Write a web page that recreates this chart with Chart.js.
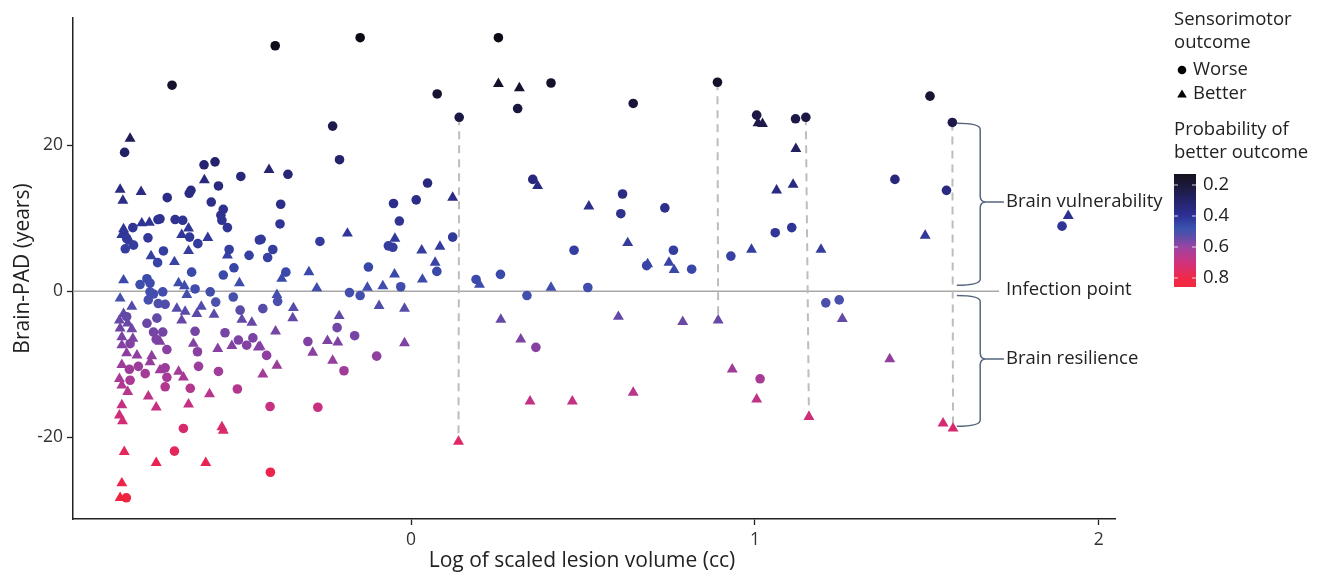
<!DOCTYPE html>
<html>
<head>
<meta charset="utf-8">
<script src="https://cdn.jsdelivr.net/npm/chart.js@4"></script>
<style>
  html, body { margin: 0; padding: 0; background: #fff; }
  #wrap { position: relative; width: 1322px; height: 576px; }
</style>
</head>
<body>
<div id="wrap"><canvas id="chart"></canvas></div>
<script>
// Sensorimotor outcome: worse (circles)
const worseX = [
  -0.695, -0.395, -0.148, 0.076, 0.254, 0.407, 0.310, 0.140, 0.646, 0.891,
  1.005, 1.118, 1.148, 1.509, 1.574, -0.228, -0.208, -0.833, -0.602, -0.570,
  -0.358, -0.495, -0.560, -0.640, -0.645, -0.709, -0.581, -0.546, -0.553, -0.550,
  -0.534, -0.736, -0.730, -0.686, -0.664, -0.809, -0.827, -0.644, -0.765, -0.620,
  -0.807, -0.831, -0.720, -0.529, -0.471, -0.441, -0.737, -0.515, -0.638, -0.546,
  -0.768, -0.788, -0.759, -0.628, -0.722, -0.584, -0.517, -0.759, -0.764, -0.749,
  -0.735, -0.715, -0.568, -0.497, -0.827, -0.768, -0.739, -0.749, -0.722, -0.628,
  -0.541, -0.741, -0.502, -0.460, -0.478, -0.621, -0.710, -0.817, -0.793, -0.819,
  -0.715, -0.773, -0.710, -0.618, -0.560, -0.817, -0.715, -0.642, -0.505, -0.662,
  -0.688, -0.828, -0.379, -0.381, -0.436, -0.265, -0.402, -0.417, -0.364, -0.124,
  -0.179, -0.148, -0.030, -0.388, -0.431, 0.048, 0.015, -0.051, -0.034, -0.066,
  -0.053, 0.075, 0.121, 0.354, 0.615, 0.610, 0.738, 0.474, 0.763, 0.685,
  0.816, 0.260, 0.189, 0.514, 0.337, 0.363, -0.215, -0.164, -0.300, -0.420,
  -0.100, -0.195, -0.410, -0.271, -0.409, 1.407, 1.059, 1.107, 0.930, 1.206,
  1.245, 1.015, 1.557, 1.893
];
const worseY = [
  28.2, 33.6, 34.7, 27.0, 34.7, 28.5, 25.0, 23.8, 25.7, 28.6,
  24.1, 23.6, 23.8, 26.7, 23.1, 22.6, 18.0, 19.0, 17.3, 17.7,
  16.0, 15.7, 14.4, 13.8, 13.4, 12.8, 12.2, 11.2, 10.4, 9.7,
  8.7, 9.8, 9.9, 9.8, 9.7, 8.7, 7.2, 7.4, 7.3, 6.5,
  6.3, 5.8, 5.5, 5.7, 4.9, 7.0, 3.9, 3.2, 2.6, 2.2,
  1.7, 0.9, 1.1, 0.3, -0.1, -0.1, -0.8, -0.1, -1.2, -0.4,
  -1.7, -1.8, -1.5, -2.6, -3.5, -4.4, -3.7, -5.6, -5.6, -5.5,
  -5.7, -6.6, -6.7, -6.4, -7.4, -8.3, -8.0, -7.2, -10.3, -10.7,
  -10.5, -11.3, -11.8, -10.3, -11.0, -12.2, -13.1, -13.3, -13.4, -18.8,
  -21.9, -28.3, 11.9, 9.2, 7.1, 6.8, 5.7, 4.6, 2.6, 3.3,
  -0.2, -0.6, 0.6, -1.4, -2.4, 14.8, 12.5, 12.0, 9.6, 6.2,
  6.0, 2.7, 7.4, 15.3, 13.3, 10.6, 11.4, 5.6, 5.6, 3.5,
  3.0, 2.3, 1.6, 0.5, -0.6, -7.7, -5.0, -6.1, -6.9, -8.8,
  -8.9, -10.9, -15.8, -15.9, -24.8, 15.3, 8.0, 8.7, 4.8, -1.6,
  -1.2, -12.0, 13.8, 8.9
];

// Sensorimotor outcome: better (triangles)
const betterX = [
  0.254, 0.315, 1.009, 1.022, 1.119, -0.817, -0.413, -0.601, -0.846, -0.785,
  -0.838, -0.783, -0.761, -0.836, -0.831, -0.841, -0.817, -0.647, -0.667, -0.591,
  -0.647, -0.534, -0.756, -0.688, -0.836, -0.499, -0.676, -0.659, -0.652, -0.846,
  -0.681, -0.657, -0.667, -0.610, -0.623, -0.573, -0.492, -0.463, -0.812, -0.836,
  -0.848, -0.824, -0.846, -0.812, -0.841, -0.809, -0.730, -0.521, -0.562, -0.633,
  -0.444, -0.841, -0.827, -0.797, -0.754, -0.759, -0.841, -0.730, -0.676, -0.662,
  -0.848, -0.841, -0.824, -0.764, -0.586, -0.741, -0.647, -0.841, -0.848, -0.839,
  -0.550, -0.546, -0.834, -0.741, -0.597, -0.841, -0.846, -0.185, -0.047, 0.031,
  0.084, 0.070, -0.297, -0.376, -0.048, 0.033, -0.274, -0.127, -0.082, -0.390,
  -0.342, -0.093, -0.019, 0.121, 0.368, 0.517, 0.630, 0.688, 0.750, 0.765,
  0.199, 0.407, 0.261, 0.603, 0.790, 0.319, 0.346, 0.469, 0.646, 0.138,
  -0.344, -0.209, -0.394, -0.243, -0.213, -0.286, -0.019, -0.439, -0.228, -0.390,
  -0.431, 1.063, 1.111, 0.990, 1.192, 1.254, 0.893, 1.392, 0.934, 1.005,
  1.157, 1.495, 1.911, 1.547, 1.576
];
const betterY = [
  28.4, 27.8, 23.0, 22.9, 19.5, 20.9, 16.6, 15.2, 13.9, 13.6,
  12.4, 9.3, 9.4, 8.5, 7.9, 7.7, 6.8, 8.6, 7.7, 7.3,
  5.5, 4.9, 4.8, 4.0, 1.5, 1.1, 1.1, 0.7, -0.5, -1.0,
  -2.4, -2.8, -4.0, -2.1, -3.1, -3.2, -3.9, -4.3, -2.1, -3.1,
  -4.0, -4.4, -5.1, -5.2, -6.3, -6.5, -6.9, -7.5, -7.9, -7.2,
  -7.7, -7.4, -8.5, -8.8, -8.9, -9.7, -10.1, -10.8, -11.0, -11.8,
  -12.0, -12.9, -13.8, -14.4, -14.1, -15.9, -15.5, -15.6, -17.0, -17.8,
  -18.6, -19.1, -22.0, -23.5, -23.5, -26.3, -28.3, 7.9, 7.2, 5.6,
  6.1, 3.9, 2.6, 1.7, 2.3, 1.6, 0.4, 0.5, 0.7, -0.5,
  -2.3, -2.0, -2.4, 12.8, 14.4, 11.6, 6.6, 3.7, 3.9, 2.9,
  0.9, 0.5, -3.9, -3.5, -4.2, -6.6, -15.1, -15.1, -13.9, -20.6,
  -3.7, -3.4, -5.5, -6.8, -7.0, -8.4, -7.1, -7.6, -9.5, -10.2,
  -11.4, 13.8, 14.6, 5.7, 5.7, -3.8, -4.0, -9.3, -10.7, -14.8,
  -17.2, 7.6, 10.3, -18.1, -18.8
];

// dashed links between matched cases (top point, bottom point)
const linkX = [[0.140, 0.138], [0.891, 0.893], [1.148, 1.157], [1.574, 1.576]];
const linkY = [[23.8, -20.6], [28.6, -4.0], [23.8, -17.2], [23.1, -18.8]];

const xTicks = [0, 1, 2];
const yTicks = [-20, 0, 20];
const probTicks = [0.2, 0.4, 0.6, 0.8];

const xMin = -0.983, xMax = 2.047;
const yMin = -31.2, yMax = 37.4;

const FONT = '"Open Sans", "Noto Sans", sans-serif';
const INK = '#222';
const LABEL_FONT = `18.5px ${FONT}`;

// colour ramp of the markers, keyed on Brain-PAD
const padStops = [35, 28, 22, 15, 8, 2, -1, -4, -8, -12, -16, -20, -24, -29];
const padColors = ['#0c0b14', '#15122c', '#1f1b50', '#29287e', '#313698', '#3a4aab', '#4650ad',
  '#6748a6', '#8840a1', '#a93a95', '#c8307f', '#de2866', '#ea2350', '#f0243c'];
// colour bar of the legend, keyed on probability
const probStops = [0.129, 0.2, 0.3, 0.4, 0.48, 0.53, 0.6, 0.7, 0.8, 0.858];
const probColors = ['#15121d', '#1c1838', '#24236a', '#2e3096', '#3a54ae', '#5a4eaa', '#9a44a2',
  '#d0327e', '#f02848', '#f22a3e'];

function hexRgb(h) {
  return [1, 3, 5].map(i => parseInt(h.slice(i, i + 2), 16));
}
function padColor(pad) {
  if (pad >= padStops[0]) return padColors[0];
  for (let i = 1; i < padStops.length; i++) {
    if (pad >= padStops[i]) {
      const t = (padStops[i - 1] - pad) / (padStops[i - 1] - padStops[i]);
      const a = hexRgb(padColors[i - 1]), b = hexRgb(padColors[i]);
      const c = a.map((v, k) => Math.round(v + (b[k] - v) * t));
      return `rgb(${c[0]},${c[1]},${c[2]})`;
    }
  }
  return padColors[padColors.length - 1];
}
function toPoints(xs, ys) {
  return xs.map((x, i) => ({ x: x, y: ys[i] }));
}

const links = linkX.map((xs, i) => ({
  type: 'line',
  data: toPoints(xs, linkY[i]),
  borderColor: '#bdbdbd',
  borderWidth: 2,
  borderDash: [8, 6],
  pointRadius: 0,
  showLine: true,
  fill: false,
}));

function drawBrace(c, xl, xs, xt, yTop, yBot, yMid, r) {
  c.beginPath();
  c.moveTo(xl, yTop);
  c.quadraticCurveTo(xs, yTop, xs, yTop + r);
  c.lineTo(xs, yMid - r);
  c.quadraticCurveTo(xs, yMid, xt, yMid);
  c.quadraticCurveTo(xs, yMid, xs, yMid + r);
  c.lineTo(xs, yBot - r);
  c.quadraticCurveTo(xs, yBot, xl, yBot);
  c.stroke();
}

const decor = {
  id: 'decor',
  beforeDatasetsDraw(chart) {
    const c = chart.ctx, xs = chart.scales.x, ys = chart.scales.y;
    c.save();
    c.strokeStyle = '#a8a8a8';
    c.lineWidth = 1.5;
    c.beginPath();
    c.moveTo(chart.chartArea.left, ys.getPixelForValue(0));
    c.lineTo(xs.getPixelForValue(1.71), ys.getPixelForValue(0));
    c.stroke();
    c.restore();
  },
  afterDraw(chart) {
    const c = chart.ctx, xs = chart.scales.x, ys = chart.scales.y;
    c.save();
    // x axis title (sits a little left of the plot centre in the original)
    c.fillStyle = INK;
    c.font = `21px ${FONT}`;
    c.textAlign = 'center';
    c.textBaseline = 'middle';
    c.fillText('Log of scaled lesion volume (cc)', 582, 561);

    // braces
    c.strokeStyle = '#56667e';
    c.lineWidth = 1.5;
    const xl = xs.getPixelForValue(1.587), xsp = xs.getPixelForValue(1.655), xt = xs.getPixelForValue(1.672);
    const xEnd = xs.getPixelForValue(1.724);
    const vMid = ys.getPixelForValue(12.2), rMid = ys.getPixelForValue(-9.3);
    drawBrace(c, xl, xsp, xt, ys.getPixelForValue(23.0), ys.getPixelForValue(0.8), vMid, 6);
    drawBrace(c, xl, xsp, xt, ys.getPixelForValue(-0.6), ys.getPixelForValue(-18.5), rMid, 6);
    c.beginPath();
    c.moveTo(xt, vMid); c.lineTo(xEnd, vMid);
    c.moveTo(xt, rMid); c.lineTo(xEnd, rMid);
    c.stroke();
    // annotation labels
    c.fillStyle = INK;
    c.font = LABEL_FONT;
    c.textAlign = 'left';
    const lx = xs.getPixelForValue(1.73);
    c.fillText('Brain vulnerability', lx, vMid);
    c.fillText('Infection point', lx, ys.getPixelForValue(0.2));
    c.fillText('Brain resilience', lx, rMid);

    // legend: shape
    const L = 1174;
    c.fillText('Sensorimotor', L, 20);
    c.fillText('outcome', L, 43);
    c.beginPath(); c.arc(L + 8, 70, 4.3, 0, Math.PI * 2); c.fillStyle = '#000'; c.fill();
    c.beginPath(); c.moveTo(L + 8, 89.5); c.lineTo(L + 12.8, 97.5); c.lineTo(L + 3.2, 97.5); c.closePath(); c.fill();
    c.fillStyle = INK;
    c.fillText('Worse', L + 19, 70);
    c.fillText('Better', L + 19, 94);
    // legend: colour bar
    c.fillText('Probability of', L, 130);
    c.fillText('better outcome', L, 153);
    const top = 174, h = 113, w = 22;
    const p0 = probStops[0], p1 = probStops[probStops.length - 1];
    const g = c.createLinearGradient(0, top, 0, top + h);
    probStops.forEach((p, i) => g.addColorStop((p - p0) / (p1 - p0), probColors[i]));
    c.fillStyle = g;
    c.fillRect(L, top, w, h);
    c.strokeStyle = 'rgba(255,255,255,0.8)';
    c.lineWidth = 1;
    probTicks.forEach(p => {
      const y = top + (p - p0) / (p1 - p0) * h;
      c.beginPath();
      c.moveTo(L, y); c.lineTo(L + 4, y);
      c.moveTo(L + w - 4, y); c.lineTo(L + w, y);
      c.stroke();
      c.fillStyle = INK;
      c.fillText(p.toFixed(1), L + 29, y);
    });
    c.restore();
  }
};

Chart.defaults.font.family = FONT;
Chart.defaults.color = INK;

new Chart(document.getElementById('chart'), {
  type: 'scatter',
  data: {
    datasets: [
      {
        label: 'Worse',
        data: toPoints(worseX, worseY),
        pointStyle: 'circle',
        pointRadius: 4.8,
        borderWidth: 0,
        backgroundColor: ctx => padColor(ctx.raw ? ctx.raw.y : 0),
      },
      {
        label: 'Better',
        data: toPoints(betterX, betterY),
        pointStyle: 'triangle',
        pointRadius: 6.3,
        borderWidth: 0,
        backgroundColor: ctx => padColor(ctx.raw ? ctx.raw.y : 0),
      },
      ...links,
    ],
  },
  options: {
    responsive: true,
    maintainAspectRatio: false,
    animation: false,
    events: [],
    layout: { padding: { left: 0, right: 207, top: 18, bottom: 0 } },
    plugins: { legend: { display: false }, tooltip: { enabled: false } },
    scales: {
      x: {
        type: 'linear',
        min: xMin,
        max: xMax,
        afterBuildTicks: s => { s.ticks = xTicks.map(v => ({ value: v })); },
        afterFit: s => { s.height = 57; },
        ticks: { font: { size: 17.5 }, color: '#333', padding: 5 },
        grid: { drawOnChartArea: false, drawTicks: true, tickLength: 6, color: INK, tickWidth: 1.3 },
        border: { color: INK, width: 1.5 },
        title: { display: false },
      },
      y: {
        type: 'linear',
        min: yMin,
        max: yMax,
        afterBuildTicks: s => { s.ticks = yTicks.map(v => ({ value: v })); },
        afterFit: s => { s.width = 73; },
        ticks: { font: { size: 17.5 }, color: '#333', padding: 4 },
        grid: { drawOnChartArea: false, drawTicks: true, tickLength: 6, color: INK, tickWidth: 1.3 },
        border: { color: INK, width: 1.5 },
        title: {
          display: true,
          text: 'Brain-PAD (years)',
          font: { size: 21 },
          color: INK,
          padding: { top: 10, bottom: 0 },
        },
      },
    },
  },
  plugins: [decor],
});
</script>
</body>
</html>
